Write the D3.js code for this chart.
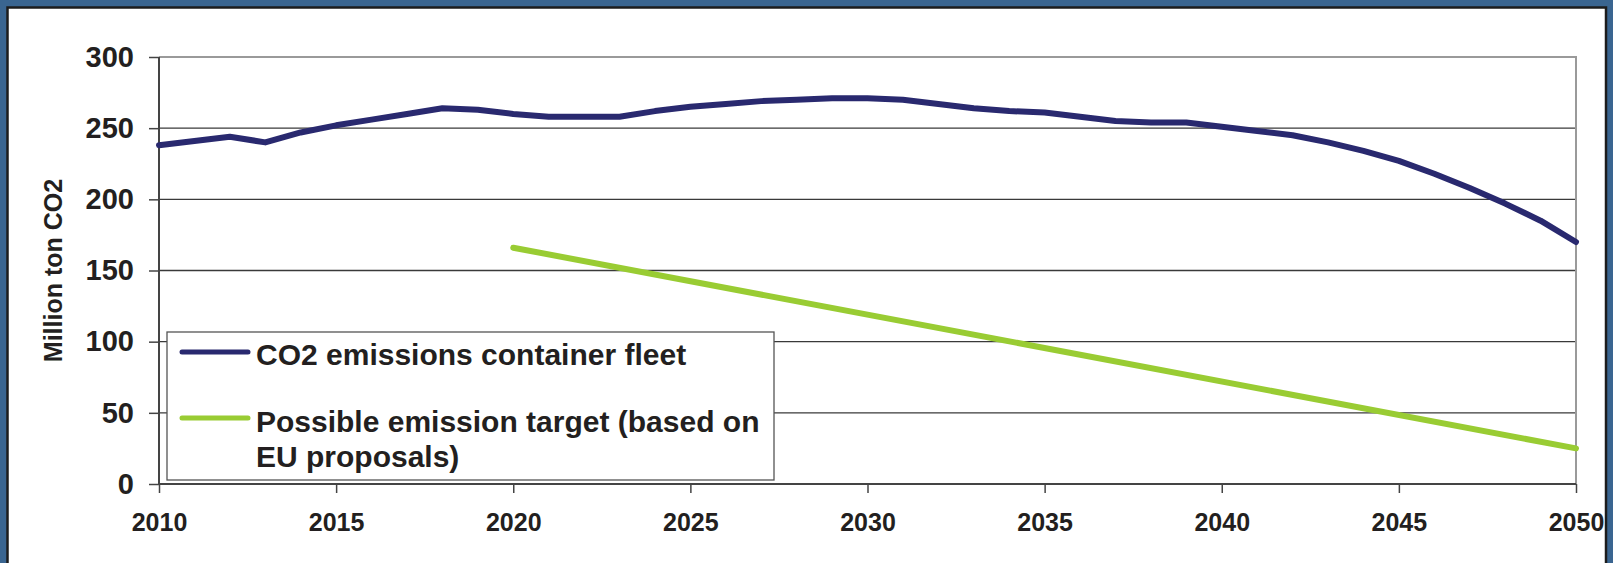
<!DOCTYPE html>
<html>
<head>
<meta charset="utf-8">
<script src="https://cdn.jsdelivr.net/npm/d3@7"></script>
<style>
  html, body { margin: 0; padding: 0; background: #3A6590; overflow: hidden; }
  svg { display: block; }
  text { font-family: "Liberation Sans", Arial, Helvetica, sans-serif; font-weight: bold; fill: #231f20; }
</style>
</head>
<body>
<svg id="chart" width="1613" height="563"></svg>
<script>
// ---- data ----
const years = [2010, 2011, 2012, 2013, 2014, 2015, 2016, 2017, 2018, 2019,
               2020, 2021, 2022, 2023, 2024, 2025, 2026, 2027, 2028, 2029,
               2030, 2031, 2032, 2033, 2034, 2035, 2036, 2037, 2038, 2039,
               2040, 2041, 2042, 2043, 2044, 2045, 2046, 2047, 2048, 2049, 2050];
const fleetEmissions = [238, 241, 244, 240, 247, 252, 256, 260, 264, 263,
                        260, 258, 258, 258, 262, 265, 267, 269, 270, 271,
                        271, 270, 267, 264, 262, 261, 258, 255, 254, 254,
                        251, 248, 245, 240, 234, 227, 218, 208, 197, 185, 170];
const targetYears = [2020, 2050];
const targetValues = [166, 25];
const xTicks = [2010, 2015, 2020, 2025, 2030, 2035, 2040, 2045, 2050];
const yTicks = [0, 50, 100, 150, 200, 250, 300];
const seriesNames = ["CO2 emissions container fleet", "Possible emission target (based on", "EU proposals)"];
const yTitle = "Million ton CO2";

// ---- layout ----
const W = 1613, H = 563;
const margin = { left: 159, top: 57, right: 37, bottom: 79 };
const svg = d3.select("#chart");

// white panel with dark border
svg.append("rect")
  .attr("x", 7.5).attr("y", 7.5)
  .attr("width", 1598.5).attr("height", 580)
  .attr("fill", "#ffffff")
  .attr("stroke", "#1c1c1c").attr("stroke-width", 2.5);

const x = d3.scaleLinear().domain([2010, 2050]).range([margin.left, W - margin.right]);
const y = d3.scaleLinear().domain([0, 300]).range([H - margin.bottom, margin.top]);

// gridlines
svg.append("g").selectAll("line")
  .data(yTicks.filter(v => v > 0 && v < 300))
  .join("line")
  .attr("x1", x(2010)).attr("x2", x(2050))
  .attr("y1", d => y(d)).attr("y2", d => y(d))
  .attr("stroke", "#3a3a3a").attr("stroke-width", 1.3);

// top & right plot border (light gray)
svg.append("path")
  .attr("d", `M${x(2010)},${y(300)}H${x(2050)}V${y(0)}`)
  .attr("fill", "none").attr("stroke", "#9a9a9a").attr("stroke-width", 2);

// axes
const yAxis = d3.axisLeft(y).tickValues(yTicks).tickSize(10).tickPadding(15).tickFormat(d3.format("d"));
const gy = svg.append("g").attr("transform", `translate(${x(2010)},0)`).call(yAxis);
gy.select(".domain").attr("stroke", "#444").attr("stroke-width", 2).attr("d", `M0,${y(300)}V${y(0)}`);
gy.selectAll(".tick line").attr("stroke", "#444").attr("stroke-width", 1.5);
gy.selectAll(".tick text").style("font-size", "29px").attr("fill", "#231f20");

const xAxis = d3.axisBottom(x).tickValues(xTicks).tickSize(9).tickPadding(20).tickFormat(d3.format("d"));
const gx = svg.append("g").attr("transform", `translate(0,${y(0)})`).call(xAxis);
gx.select(".domain").attr("stroke", "#444").attr("stroke-width", 2).attr("d", `M${x(2010)},0H${x(2050)}`);
gx.selectAll(".tick line").attr("stroke", "#444").attr("stroke-width", 1.5);
gx.selectAll(".tick text").style("font-size", "25px").attr("fill", "#231f20");

// y title
svg.append("text")
  .attr("transform", `translate(62,${(y(0) + y(300)) / 2}) rotate(-90)`)
  .attr("text-anchor", "middle")
  .style("font-size", "25px")
  .text(yTitle);

// legend box (drawn before lines? lines are above but legend sits in empty area)
const legend = svg.append("g");
legend.append("rect")
  .attr("x", 167).attr("y", 332).attr("width", 607).attr("height", 148)
  .attr("fill", "#ffffff").attr("stroke", "#555").attr("stroke-width", 1.3);

// lines
const line = d3.line().x(d => x(d[0])).y(d => y(d[1]));
svg.append("path")
  .datum(years.map((yr, i) => [yr, fleetEmissions[i]]))
  .attr("d", line)
  .attr("fill", "none").attr("stroke", "#29296F").attr("stroke-width", 6)
  .attr("stroke-linejoin", "round").attr("stroke-linecap", "round");
svg.append("path")
  .datum(targetYears.map((yr, i) => [yr, targetValues[i]]))
  .attr("d", line)
  .attr("fill", "none").attr("stroke", "#99CC33").attr("stroke-width", 6)
  .attr("stroke-linejoin", "round").attr("stroke-linecap", "round");

// legend entries
const swatches = [{ c: "#29296F", y: 352 }, { c: "#99CC33", y: 418 }];
legend.selectAll("line.sw").data(swatches).join("line")
  .attr("class", "sw")
  .attr("x1", 182).attr("x2", 248)
  .attr("y1", d => d.y).attr("y2", d => d.y)
  .attr("stroke", d => d.c).attr("stroke-width", 5).attr("stroke-linecap", "round");
const baselines = [365, 431.5, 466.5];
legend.selectAll("text").data(seriesNames).join("text")
  .attr("x", 256).attr("y", (d, i) => baselines[i])
  .style("font-size", "30px")
  .text(d => d);
</script>
</body>
</html>
